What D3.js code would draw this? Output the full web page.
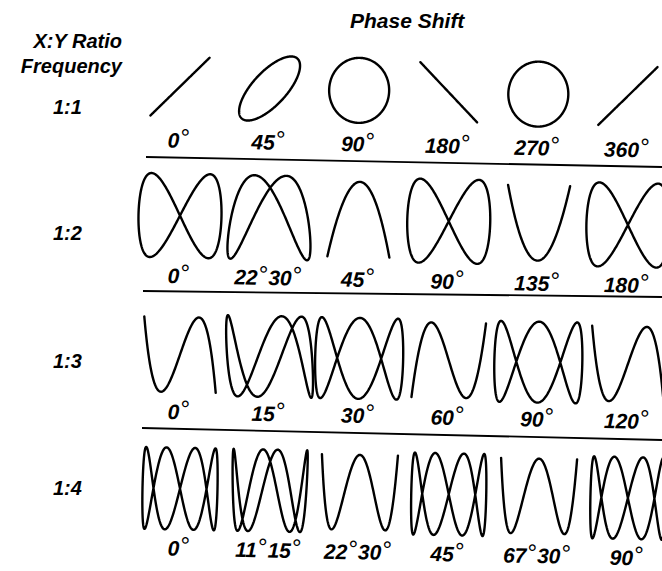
<!DOCTYPE html>
<html>
<head>
<meta charset="utf-8">
<script src="https://cdn.jsdelivr.net/npm/d3@7"></script>
<style>
  body { margin: 0; background: #fff; }
  text { font-family: "Liberation Sans", Arial, sans-serif; font-weight: bold; font-style: italic; fill: #000; }
</style>
</head>
<body>
<svg width="662" height="571"></svg>
<script>
// X:Y frequency ratios, one row each
const ratioLabels = ['1:1', '1:2', '1:3', '1:4'];
const yFrequency = [1, 2, 3, 4];

// phase shift captions under each figure
const phase1to1 = ['0°', '45°', '90°', '180°', '270°', '360°'];
const phase1to2 = ['0°', '22°30°', '45°', '90°', '135°', '180°'];
const phase1to3 = ['0°', '15°', '30°', '60°', '90°', '120°'];
const phase1to4 = ['0°', '11°15°', '22°30°', '45°', '67°30°', '90°'];

// phase of the Y signal as it is drawn (degrees of the Y cycle)
const yShift1to1 = [0, 45, 90, 180, 270, 360];
const yShift1to2 = [0, 45, 90, 180, 270, 360];
const yShift1to3 = [0, 45, 90, 180, 270, 360];
const yShift1to4 = [0, 45, 90, 180, 90, 360];

const captions = [phase1to1, phase1to2, phase1to3, phase1to4];
const yShifts = [yShift1to1, yShift1to2, yShift1to3, yShift1to4];

const svg = d3.select('svg');

// layout of each row (closed / open figure sizes, caption and ratio baselines)
const rows = [
    {cy: 86,  wC: 60, wO: 58, hC: 65, hO: 59, labelY: 147,   ratioY: 114},
    {cy: 215, wC: 83, wO: 62, hC: 84, hO: 75, labelY: 282.5, ratioY: 240},
    {cy: 354, wC: 88, wO: 73, hC: 81, hO: 75, labelY: 418.5, ratioY: 368},
    {cy: 488, wC: 75, wO: 76, hC: 82, hO: 75, labelY: 555,   ratioY: 495}
];
const separators = [[146, 157, 662, 167], [143, 291, 662, 297], [142, 428, 662, 440]];
const tilt = 1.2;

const xScale = d3.scalePoint()
    .domain(d3.range(6))
    .range([180, 628]);

const rad = Math.PI / 180;
const steps = d3.range(0, 361, 1);

svg.append('text')
    .attr('x', 350)
    .attr('y', 28)
    .style('font-size', '21px')
    .text('Phase Shift');

svg.append('text')
    .attr('x', 122)
    .attr('y', 48)
    .attr('text-anchor', 'end')
    .style('font-size', '20px')
    .text('X:Y Ratio');

svg.append('text')
    .attr('x', 122)
    .attr('y', 73)
    .attr('text-anchor', 'end')
    .style('font-size', '20px')
    .text('Frequency');

separators.forEach(s => {
    svg.append('line')
        .attr('x1', s[0]).attr('y1', s[1])
        .attr('x2', s[2]).attr('y2', s[3])
        .attr('stroke', '#000')
        .attr('stroke-width', 1.8);
});

ratioLabels.forEach((label, r) => {
    const row = rows[r];
    const n = yFrequency[r];

    svg.append('text')
        .attr('x', 53)
        .attr('y', row.ratioY)
        .style('font-size', '20px')
        .text(label);

    const g = svg.append('g')
        .attr('transform', `rotate(${tilt}, 150, ${row.cy})`);

    yShifts[r].forEach((psi, i) => {
        const cx = xScale(i);
        const open = (n % 2 === 1 && psi % 180 === 0) || (n % 2 === 0 && psi % 180 === 90);
        const w = open ? row.wO : row.wC;
        const h = open ? row.hO : row.hC;

        const sx = d3.scaleLinear().domain([-1, 1]).range([cx - w / 2, cx + w / 2]);
        const sy = d3.scaleLinear().domain([-1, 1]).range([row.cy + h / 2, row.cy - h / 2]);

        const line = d3.line()
            .x(d => sx(Math.sin(d * rad)))
            .y(d => sy(Math.sin((n * d + psi) * rad)));

        g.append('path')
            .attr('d', line(steps))
            .attr('fill', 'none')
            .attr('stroke', '#000')
            .attr('stroke-width', 2.4)
            .attr('stroke-linejoin', 'round')
            .attr('stroke-linecap', 'round');

        const t = g.append('text')
            .attr('x', cx)
            .attr('y', row.labelY)
            .attr('text-anchor', 'middle')
            .style('font-size', '21px');

        const parts = captions[r][i].split('°');
        parts.forEach((p, k) => {
            if (k === parts.length - 1) return;
            t.append('tspan').attr('dy', k === 0 ? 0 : 2).text(p);
            t.append('tspan')
                .attr('dx', 1)
                .attr('dy', -2)
                .style('font-weight', 'normal')
                .style('font-style', 'normal')
                .style('font-size', '24px')
                .text('°');
        });
    });
});
</script>
</body>
</html>
